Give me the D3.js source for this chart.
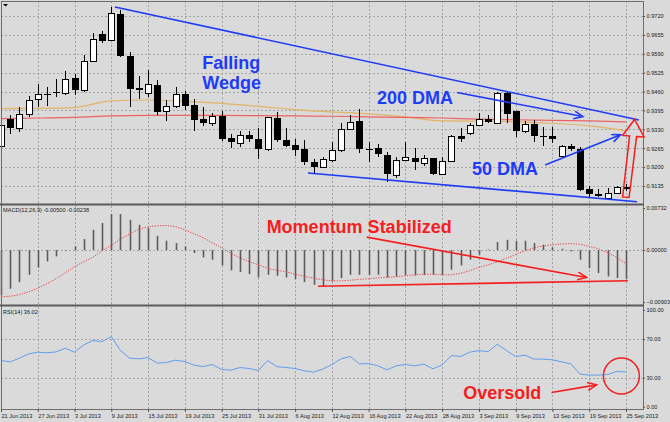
<!DOCTYPE html>
<html>
<head>
<meta charset="utf-8">
<script src="https://cdn.jsdelivr.net/npm/d3@7"></script>
<style>
  html, body { margin: 0; padding: 0; background: #dadada; }
  svg { display: block; }
  .small { font-family: "Liberation Sans", Arial, sans-serif; font-size: 5.6px; fill: #1a1a1a; }
  .note { font-family: "Liberation Sans", Arial, sans-serif; font-weight: bold; font-size: 18px; }
</style>
</head>
<body>
<svg id="chart"></svg>
<script>
// ---- data (daily bars, 21 Jun - 25 Sep 2013) ----
const opens  = [0.9273,0.9366,0.9335,0.9383,0.9434,0.9452,0.9459,0.9455,0.9507,0.9465,0.9565,0.9658,0.9637,0.9727,0.9582,0.9472,0.9455,0.9483,0.9393,0.9410,0.9452,0.9414,0.9365,0.9351,0.9376,0.9299,0.9282,0.9311,0.9298,0.9261,0.9370,0.9292,0.9275,0.9261,0.9219,0.9202,0.9225,0.9259,0.9330,0.9359,0.9263,0.9265,0.9242,0.9173,0.9225,0.9233,0.9213,0.9230,0.9176,0.9222,0.9308,0.9319,0.9345,0.9365,0.9353,0.9454,0.9393,0.9325,0.9347,0.9307,0.9307,0.9239,0.9274,0.9261,0.9124,0.9107,0.9093,0.9110,0.9133];
const highs  = [0.9352,0.9379,0.9407,0.9445,0.9486,0.9476,0.9503,0.9531,0.9520,0.9586,0.9661,0.9668,0.9751,0.9741,0.9596,0.9514,0.9534,0.9500,0.9431,0.9477,0.9463,0.9434,0.9407,0.9387,0.9394,0.9313,0.9324,0.9325,0.9336,0.9374,0.9391,0.9334,0.9296,0.9293,0.9227,0.9234,0.9287,0.9351,0.9379,0.9399,0.9287,0.9279,0.9253,0.9234,0.9287,0.9265,0.9242,0.9233,0.9236,0.9311,0.9334,0.9353,0.9385,0.9379,0.9457,0.9460,0.9394,0.9359,0.9362,0.9339,0.9339,0.9276,0.9279,0.9268,0.9135,0.9124,0.9127,0.9135,0.9142];
const lows   = [0.9269,0.9314,0.9321,0.9373,0.9407,0.9410,0.9441,0.9448,0.9448,0.9459,0.9562,0.9627,0.9634,0.9579,0.9407,0.9434,0.9441,0.9379,0.9360,0.9405,0.9397,0.9324,0.9343,0.9343,0.9290,0.9265,0.9268,0.9288,0.9229,0.9256,0.9287,0.9269,0.9239,0.9208,0.9179,0.9196,0.9219,0.9253,0.9328,0.9248,0.9219,0.9236,0.9150,0.9162,0.9222,0.9190,0.9204,0.9173,0.9173,0.9219,0.9288,0.9311,0.9342,0.9351,0.9351,0.9351,0.9303,0.9319,0.9288,0.9273,0.9282,0.9236,0.9257,0.9119,0.9098,0.9096,0.9091,0.9108,0.9119];
const closes = [0.9345,0.9335,0.9383,0.9431,0.9452,0.9450,0.9455,0.9503,0.9465,0.9565,0.9641,0.9634,0.9730,0.9582,0.9469,0.9465,0.9486,0.9390,0.9411,0.9452,0.9411,0.9362,0.9351,0.9376,0.9297,0.9287,0.9312,0.9298,0.9261,0.9371,0.9292,0.9273,0.9258,0.9219,0.9202,0.9227,0.9259,0.9330,0.9354,0.9261,0.9261,0.9244,0.9175,0.9225,0.9234,0.9218,0.9230,0.9176,0.9222,0.9308,0.9297,0.9345,0.9365,0.9356,0.9454,0.9382,0.9325,0.9347,0.9307,0.9306,0.9297,0.9273,0.9261,0.9121,0.9107,0.9108,0.9110,0.9131,0.9124];

// moving averages read every 4th bar (same bars as the date labels)
const maIndex = [0,4,8,12,16,20,24,28,32,36,40,44,48,52,56,60,64,68];
const ma200 = [0.9367,0.9369,0.9371,0.9376,0.9378,0.9378,0.9378,0.9377,0.9376,0.9375,0.9373,0.9371,0.9369,0.9365,0.9363,0.9361,0.9359,0.9356];
const ma50  = [0.9401,0.9402,0.9405,0.9428,0.9431,0.9426,0.9419,0.9409,0.9398,0.9390,0.9383,0.9373,0.9359,0.9358,0.9356,0.9351,0.9342,0.9325];

const macdHist = [-0.00780,-0.00673,-0.00557,-0.00430,-0.00302,-0.00198,-0.00110,-0.00010,0.00064,0.00191,0.00353,0.00470,0.00626,0.00626,0.00527,0.00440,0.00383,0.00249,0.00162,0.00122,0.00064,-0.00052,-0.00128,-0.00168,-0.00267,-0.00354,-0.00383,-0.00418,-0.00476,-0.00430,-0.00447,-0.00476,-0.00505,-0.00557,-0.00603,-0.00633,-0.00546,-0.00487,-0.00430,-0.00430,-0.00430,-0.00430,-0.00476,-0.00459,-0.00430,-0.00441,-0.00430,-0.00430,-0.00430,-0.00342,-0.00267,-0.00168,-0.00081,0.00010,0.00139,0.00179,0.00162,0.00162,0.00122,0.00093,0.00046,0.00023,-0.00023,-0.00168,-0.00313,-0.00400,-0.00459,-0.00487,-0.00500];
const macdSignal = [-0.00812,-0.00803,-0.00777,-0.00725,-0.00664,-0.00586,-0.00499,-0.00395,-0.00290,-0.00203,-0.00125,-0.00012,0.00083,0.00188,0.00283,0.00362,0.00405,0.00423,0.00428,0.00405,0.00353,0.00283,0.00214,0.00127,0.00040,-0.00056,-0.00134,-0.00203,-0.00255,-0.00317,-0.00351,-0.00377,-0.00421,-0.00456,-0.00490,-0.00517,-0.00534,-0.00534,-0.00525,-0.00508,-0.00499,-0.00482,-0.00473,-0.00464,-0.00447,-0.00430,-0.00421,-0.00418,-0.00430,-0.00430,-0.00404,-0.00360,-0.00299,-0.00256,-0.00203,-0.00143,-0.00073,-0.00012,0.00040,0.00075,0.00092,0.00106,0.00113,0.00101,0.00066,0.00023,-0.00047,-0.00125,-0.00238];

const rsi = [47.7,46.4,50.2,54.6,56.4,55.7,56.7,60.5,56.4,63.9,68.4,67.3,72.5,58.0,50.2,49.5,50.8,45.1,45.7,48.1,46.7,43.0,41.5,43.6,38.5,37.8,40.5,39.5,37.4,47.7,41.5,40.5,39.5,37.1,35.8,38.9,43.6,49.5,51.9,44.3,44.6,42.3,38.1,42.3,43.6,42.3,44.0,39.2,43.3,52.9,51.9,56.4,58.0,57.0,64.6,58.0,51.9,53.3,49.2,49.2,48.5,46.4,44.3,33.7,32.7,32.7,33.3,36.4,36.0];

const dateIndex = [0,4,8,12,16,20,24,28,32,36,40,44,48,52,56,60,64,68];
const dateLabels = ["21 Jun 2013","27 Jun 2013","3 Jul 2013","9 Jul 2013","15 Jul 2013","19 Jul 2013","25 Jul 2013","31 Jul 2013","6 Aug 2013","12 Aug 2013","16 Aug 2013","22 Aug 2013","28 Aug 2013","3 Sep 2013","9 Sep 2013","13 Sep 2013","19 Sep 2013","25 Sep 2013"];

const priceTicks = [0.9720,0.9655,0.9590,0.9525,0.9460,0.9395,0.9330,0.9265,0.9200,0.9135];
const macdTicks = [0.00732,0,-0.00903];
const rsiTicks = [100,70,30,0];

// ---- layout ----
const width = 670, height = 422;
const left = 1, right = 643;
const panel = {
  price: {top: 1, bottom: 203},
  macd: {top: 206, bottom: 304},
  rsi: {top: 307, bottom: 409}
};
const blue = "#1e3cf5", red = "#f51e1e";

const svg = d3.select("#chart").attr("width", width).attr("height", height);
svg.append("rect").attr("width", width).attr("height", height).attr("fill", "#dadada");

const x = d3.scaleLinear().domain([0, 68]).range([1, 626]);
const yPrice = d3.scaleLinear().domain([0.9135, 0.9720]).range([186, 16]);
const yMacd = d3.scaleLinear().domain([-0.00903, 0.00732]).range([302, 208]);
const yRsi = d3.scaleLinear().domain([0, 100]).range([406.7, 310]);

const defs = svg.append("defs");
[["headBlue", blue], ["headRed", red]].forEach(([id, col]) => {
  defs.append("marker")
      .attr("id", id)
      .attr("markerUnits", "userSpaceOnUse")
      .attr("markerWidth", 12).attr("markerHeight", 10)
      .attr("refX", 9).attr("refY", 4)
      .attr("orient", "auto")
    .append("path")
      .attr("d", "M0,0 L9,4 L0,8")
      .attr("fill", "none")
      .attr("stroke", col)
      .attr("stroke-width", 1.6);
});

// ---- grid ----
const grid = svg.append("g")
                .attr("stroke", "#a6a6a6")
                .attr("stroke-dasharray", "2,2")
                .attr("stroke-width", 1);
Object.values(panel).forEach(p => {
  grid.selectAll(null)
      .data(dateIndex)
      .enter()
      .append("line")
      .attr("x1", d => Math.round(x(d)) + 0.5)
      .attr("x2", d => Math.round(x(d)) + 0.5)
      .attr("y1", p.top)
      .attr("y2", p.bottom);
});
const hLines = priceTicks.map(v => yPrice(v))
  .concat([yMacd(0)])
  .concat([70, 30].map(v => yRsi(v)));
grid.selectAll(null)
    .data(hLines)
    .enter()
    .append("line")
    .attr("x1", left).attr("x2", right)
    .attr("y1", d => Math.round(d) + 0.5)
    .attr("y2", d => Math.round(d) + 0.5);

// ---- moving averages ----
const maLine = d3.line()
                 .x(d => x(d[0]))
                 .y(d => yPrice(d[1]))
                 .curve(d3.curveMonotoneX);
svg.append("path")
   .attr("d", maLine(maIndex.map((d, i) => [d, ma50[i]])))
   .attr("fill", "none")
   .attr("stroke", "#e2b466")
   .attr("stroke-width", 1.2);
svg.append("path")
   .attr("d", maLine(maIndex.map((d, i) => [d, ma200[i]])))
   .attr("fill", "none")
   .attr("stroke", "#f06262")
   .attr("stroke-width", 1.2);

// ---- candles ----
const candles = opens.map((o, i) => ({i: i, o: o, h: highs[i], l: lows[i], c: closes[i]}));
const cg = svg.append("g").selectAll("g")
              .data(candles)
              .enter()
              .append("g");
cg.append("line")
  .attr("x1", d => Math.round(x(d.i)) + 0.5)
  .attr("x2", d => Math.round(x(d.i)) + 0.5)
  .attr("y1", d => Math.round(yPrice(d.h)))
  .attr("y2", d => Math.round(yPrice(d.l)))
  .attr("stroke", "#000")
  .attr("stroke-width", 1);
cg.append("rect")
  .attr("x", d => Math.round(x(d.i)) - (d.c >= d.o ? 2.5 : 3))
  .attr("width", d => d.c >= d.o ? 6 : 7)
  .attr("y", d => Math.round(yPrice(Math.max(d.o, d.c))) + (d.c >= d.o ? 0.5 : 0))
  .attr("height", d => Math.max(1, Math.round(yPrice(Math.min(d.o, d.c))) - Math.round(yPrice(Math.max(d.o, d.c)))))
  .attr("fill", d => d.c >= d.o ? "#fff" : "#000")
  .attr("stroke", d => d.c >= d.o ? "#000" : "none")
  .attr("stroke-width", 1);

// ---- MACD ----
svg.append("g").selectAll("line")
   .data(macdHist)
   .enter()
   .append("line")
   .attr("x1", (d, i) => Math.round(x(i)) + 0.5)
   .attr("x2", (d, i) => Math.round(x(i)) + 0.5)
   .attr("y1", yMacd(0))
   .attr("y2", d => yMacd(d))
   .attr("stroke", "#5c5c5c")
   .attr("stroke-width", 1.6);
svg.append("path")
   .attr("d", d3.line().x((d, i) => x(i)).y(d => yMacd(d))(macdSignal))
   .attr("fill", "none")
   .attr("stroke", "#ec4a4a")
   .attr("stroke-width", 1)
   .attr("stroke-dasharray", "1.3,1.3");

// ---- RSI ----
svg.append("path")
   .attr("d", d3.line().x((d, i) => x(i)).y(d => yRsi(d))(rsi))
   .attr("fill", "none")
   .attr("stroke", "#5e9ff0")
   .attr("stroke-width", 1);

// ---- frame ----
const frame = svg.append("g").attr("stroke", "#6e6e6e").attr("fill", "none");
frame.append("line").attr("x1", 1.5).attr("x2", 1.5).attr("y1", 1).attr("y2", 409);
frame.append("line").attr("x1", 1).attr("x2", right).attr("y1", 1.5).attr("y2", 1.5);
frame.append("line").attr("x1", right + 0.5).attr("x2", right + 0.5).attr("y1", 1).attr("y2", 410);
frame.append("line").attr("x1", 1).attr("x2", right).attr("y1", 409.5).attr("y2", 409.5);
[204.5, 305.5].forEach(yy => {
  frame.append("line").attr("x1", 0).attr("x2", right + 1).attr("y1", yy).attr("y2", yy)
       .attr("stroke-width", 2.2).attr("stroke", "#5a5a5a");
});
svg.append("path").attr("d", "M3,4 L8,4 L5.5,6.5 Z").attr("fill", "#000");

// ---- axes ----
function rightAxis(scale, ticks, fmt) {
  const g = svg.append("g")
               .attr("transform", "translate(" + right + ",0)")
               .call(d3.axisRight(scale).tickValues(ticks).tickSize(2).tickPadding(1.5).tickFormat(fmt));
  g.select(".domain").remove();
  g.selectAll("line").attr("stroke", "#555");
  g.selectAll("text").attr("class", "small").attr("font-size", null).attr("font-family", null);
  g.attr("font-size", null).attr("font-family", null);
}
rightAxis(yPrice, priceTicks, d3.format(".4f"));
rightAxis(yMacd, macdTicks, d3.format(".5f"));
rightAxis(yRsi, rsiTicks, d3.format(".2f"));

const xg = svg.append("g")
              .attr("transform", "translate(0,409)")
              .call(d3.axisBottom(x).tickValues(dateIndex).tickSize(3).tickFormat((d, i) => dateLabels[i]));
xg.select(".domain").remove();
xg.selectAll("line").attr("stroke", "#555");
xg.selectAll("text")
  .attr("class", "small")
  .attr("text-anchor", "start")
  .attr("x", 0)
  .attr("y", 9)
  .attr("dy", 0);
xg.attr("font-size", null).attr("font-family", null);

svg.append("text").attr("class", "small").attr("x", 3).attr("y", 211.5)
   .text("MACD(12,26,9) -0.00500 -0.00238");
svg.append("text").attr("class", "small").attr("x", 3).attr("y", 313.5)
   .text("RSI(14) 36.02");

// ---- annotations (bar index / value space) ----
function seg(x1, y1, x2, y2, col, head) {
  const l = svg.append("line")
               .attr("x1", x1).attr("y1", y1).attr("x2", x2).attr("y2", y2)
               .attr("stroke", col).attr("stroke-width", 1.6);
  if (head) l.attr("marker-end", "url(#" + head + ")");
}
// wedge lines
seg(x(12.4), yPrice(0.9751), x(69.4), yPrice(0.9362), blue);
seg(x(33.4), yPrice(0.9180), x(69.2), yPrice(0.9081), blue);
// MA arrows
seg(x(49.6), yPrice(0.9457), x(63.3), yPrice(0.9374), blue, "headBlue");
seg(x(59.2), yPrice(0.9207), x(67.4), yPrice(0.9311), blue, "headBlue");

svg.append("text").attr("class", "note").attr("fill", blue)
   .attr("x", x(21.9)).attr("y", yPrice(0.9538)).text("Falling");
svg.append("text").attr("class", "note").attr("fill", blue)
   .attr("x", x(21.9)).attr("y", yPrice(0.9469)).text("Wedge");
svg.append("text").attr("class", "note").attr("fill", blue)
   .attr("x", x(40.9)).attr("y", yPrice(0.9416)).text("200 DMA");
svg.append("text").attr("class", "note").attr("fill", blue)
   .attr("x", x(51.25)).attr("y", yPrice(0.9173)).text("50 DMA");

// hollow red up-arrow on the last candles
const bigArrow = [[67.63,0.9097],[68.34,0.9096],[69.15,0.9305],[69.97,0.9304],[68.93,0.9364],[67.63,0.9309],[68.39,0.9307]];
svg.append("path")
   .attr("d", d3.line().x(d => x(d[0])).y(d => yPrice(d[1]))(bigArrow) + "Z")
   .attr("fill", "none")
   .attr("stroke", red)
   .attr("stroke-width", 1.5);

// MACD notes
svg.append("text").attr("class", "note").attr("fill", red)
   .attr("x", x(28.9)).attr("y", yMacd(0.00296)).text("Momentum Stabilized");
seg(x(39.8), yMacd(0.00226), x(63.7), yMacd(-0.00477), red, "headRed");
seg(x(34.5), yMacd(-0.00630), x(68.2), yMacd(-0.00534), red);

// RSI notes
svg.append("text").attr("class", "note").attr("fill", red)
   .attr("x", x(50.3)).attr("y", yRsi(7.9)).text("Oversold");
seg(x(59.9), yRsi(14.7), x(64.8), yRsi(22.6), red, "headRed");
svg.append("circle")
   .attr("cx", x(67.5)).attr("cy", yRsi(31.8)).attr("r", 18)
   .attr("fill", "none").attr("stroke", red).attr("stroke-width", 1.5);
</script>
</body>
</html>
